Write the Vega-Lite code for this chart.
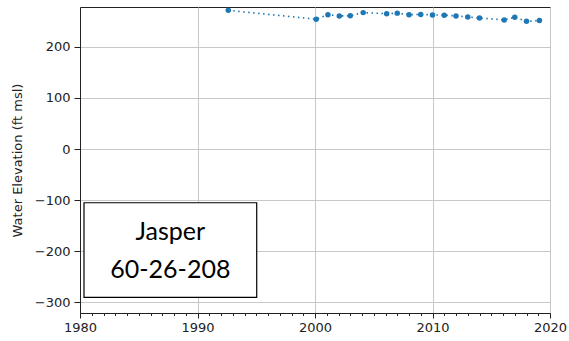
{
  "$schema": "https://vega.github.io/schema/vega-lite/v6.json",
  "autosize": "none",
  "width": 470,
  "height": 306,
  "padding": {"left": 80, "top": 7, "right": 19, "bottom": 28},
  "config": {
    "view": {"stroke": "#222", "strokeWidth": 1},
    "axis": {"labelFont": "DejaVu Sans", "titleFont": "DejaVu Sans", "labelFontSize": 13, "titleFontSize": 13, "titleFontWeight": "normal", "labelColor": "#222", "titleColor": "#222", "domainColor": "#222", "tickColor": "#222", "gridColor": "#c8c8c8", "gridWidth": 1, "labelFlush": false}
  },
  "datasets": {
    "obs": [
      {"year": 1992.62, "elev": 271.5},
      {"year": 2000.1, "elev": 254},
      {"year": 2001.1, "elev": 263},
      {"year": 2002.07, "elev": 260.5},
      {"year": 2003.0, "elev": 261},
      {"year": 2004.1, "elev": 267},
      {"year": 2006.1, "elev": 265},
      {"year": 2007.0, "elev": 266},
      {"year": 2008.0, "elev": 263},
      {"year": 2009.0, "elev": 263.5},
      {"year": 2010.0, "elev": 262.5},
      {"year": 2011.0, "elev": 262},
      {"year": 2012.0, "elev": 260.5},
      {"year": 2013.0, "elev": 258.5},
      {"year": 2014.0, "elev": 256.5},
      {"year": 2016.1, "elev": 252.7},
      {"year": 2017.0, "elev": 258},
      {"year": 2018.0, "elev": 250},
      {"year": 2019.1, "elev": 251.5}
    ],
    "box": [{"x1": 1980.34, "x2": 1995.04, "y1": -105.2, "y2": -290.4}],
    "label": [
      {"year": 1987.69, "elev": -163, "text": "Jasper"},
      {"year": 1987.69, "elev": -236, "text": "60-26-208"}
    ]
  },
  "layer": [
    {
      "data": {"name": "obs"},
      "mark": {"type": "line", "color": "#1f77b4", "strokeDash": [1.5, 3.5], "strokeWidth": 1.6},
      "encoding": {
        "x": {"field": "year", "type": "quantitative", "scale": {"domain": [1980, 2020], "nice": false, "zero": false},
              "axis": {"values": [1980, 1990, 2000, 2010, 2020], "format": "d", "title": null, "tickSize": 5, "labelPadding": 3, "grid": true}},
        "y": {"field": "elev", "type": "quantitative", "scale": {"domain": [-321, 278], "nice": false, "zero": false},
              "axis": {"values": [-300, -200, -100, 0, 100, 200], "title": "Water Elevation (ft msl)", "tickSize": 6, "labelPadding": 4, "titlePadding": 10, "grid": true}}
      }
    },
    {
      "data": {"name": "obs"},
      "mark": {"type": "point", "filled": true, "color": "#1f77b4", "opacity": 1, "size": 30},
      "encoding": {
        "x": {"field": "year", "type": "quantitative", "axis": null},
        "y": {"field": "elev", "type": "quantitative"}
      }
    },
    {
      "data": {"name": "box"},
      "mark": {"type": "rect", "fill": "white", "stroke": "#000", "strokeWidth": 1.2},
      "encoding": {
        "x": {"field": "x1", "type": "quantitative", "axis": null},
        "x2": {"field": "x2"},
        "y": {"field": "y1", "type": "quantitative"},
        "y2": {"field": "y2"}
      }
    },
    {
      "data": {"name": "label"},
      "mark": {"type": "text", "font": "Lato", "fontSize": 25, "color": "#000", "align": "center", "baseline": "middle"},
      "encoding": {
        "x": {"field": "year", "type": "quantitative", "axis": null},
        "y": {"field": "elev", "type": "quantitative"},
        "text": {"field": "text"}
      }
    },
    {
      "data": {"values": [{"year": 1980}]},
      "mark": {"type": "point", "opacity": 0},
      "encoding": {
        "x": {"field": "year", "type": "quantitative", "axis": {"orient": "bottom", "values": [1981,1982,1983,1984,1985,1986,1987,1988,1989,1991,1992,1993,1994,1995,1996,1997,1998,1999,2001,2002,2003,2004,2005,2006,2007,2008,2009,2011,2012,2013,2014,2015,2016,2017,2018,2019], "labels": false, "grid": false, "domain": false, "tickSize": 2.5, "title": null}}
      }
    }
  ],
  "resolve": {"axis": {"x": "independent"}}
}
